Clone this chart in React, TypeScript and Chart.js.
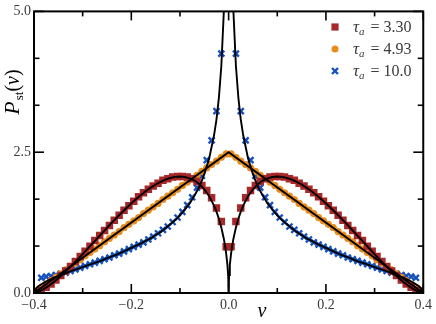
import React, { useEffect, useRef } from 'react';
import { Chart, registerables } from 'chart.js';

Chart.register(...registerables);

// bin centres (positive half, mirrored for v < 0)
const binV = [0.005, 0.015, 0.025, 0.035, 0.045, 0.055, 0.065, 0.075, 0.085, 0.095,
  0.105, 0.115, 0.125, 0.135, 0.145, 0.155, 0.165, 0.175, 0.185, 0.195,
  0.205, 0.215, 0.225, 0.235, 0.245, 0.255, 0.265, 0.275, 0.285, 0.295,
  0.305, 0.315, 0.325, 0.335, 0.345, 0.355, 0.365, 0.375, 0.385, 0.395];

// simulation markers
const tau330 = [0.82, 1.27, 1.51, 1.69, 1.82, 1.91, 1.98, 2.03, 2.06, 2.07,
  2.07, 2.06, 2.03, 2.00, 1.95, 1.90, 1.84, 1.78, 1.71, 1.63,
  1.55, 1.47, 1.38, 1.29, 1.20, 1.11, 1.02, 0.93, 0.83, 0.74,
  0.65, 0.56, 0.47, 0.39, 0.31, 0.23, 0.16, 0.10, 0.05, 0.01];
const tau493 = [2.47, 2.41, 2.34, 2.28, 2.22, 2.16, 2.09, 2.03, 1.97, 1.91,
  1.84, 1.78, 1.72, 1.66, 1.59, 1.53, 1.47, 1.41, 1.34, 1.28,
  1.22, 1.16, 1.09, 1.03, 0.97, 0.91, 0.84, 0.78, 0.72, 0.66,
  0.59, 0.53, 0.47, 0.41, 0.34, 0.28, 0.22, 0.16, 0.09, 0.03];
const tau100 = [7.2, 4.25, 3.23, 2.71, 2.36, 2.08, 1.87, 1.70, 1.56, 1.44,
  1.34, 1.26, 1.18, 1.12, 1.06, 1.00, 0.95, 0.90, 0.86, 0.82,
  0.78, 0.74, 0.70, 0.67, 0.63, 0.60, 0.57, 0.54, 0.51, 0.48,
  0.45, 0.42, 0.39, 0.36, 0.34, 0.32, 0.30, 0.29, 0.27, 0.04];

// theory curves (positive half, mirrored)
const curveV = [0, 0.001, 0.0025, 0.005, 0.0075, 0.01, 0.015, 0.02, 0.025, 0.03,
  0.04, 0.05, 0.06, 0.07, 0.08, 0.09, 0.10, 0.11, 0.12, 0.13,
  0.14, 0.15, 0.16, 0.17, 0.18, 0.19, 0.20, 0.21, 0.22, 0.23,
  0.24, 0.25, 0.26, 0.27, 0.28, 0.29, 0.30, 0.31, 0.32, 0.33,
  0.34, 0.35, 0.36, 0.37, 0.38, 0.39, 0.395, 0.4];
const curve330 = [0, 0.317, 0.499, 0.699, 0.847, 0.969, 1.164, 1.318, 1.445, 1.551,
  1.719, 1.842, 1.932, 1.996, 2.037, 2.060, 2.068, 2.061, 2.042, 2.013,
  1.974, 1.926, 1.871, 1.810, 1.742, 1.669, 1.592, 1.510, 1.425, 1.338,
  1.248, 1.156, 1.063, 0.969, 0.875, 0.782, 0.689, 0.598, 0.509, 0.423,
  0.341, 0.263, 0.191, 0.126, 0.069, 0.025, 0.009, 0];
const curve100 = [null, 15.9, 10.03, 7.07, 5.76, 4.97, 4.03, 3.47, 3.08, 2.80,
  2.39, 2.11, 1.89, 1.73, 1.59, 1.48, 1.38, 1.29, 1.22, 1.15,
  1.08, 1.03, 0.97, 0.93, 0.88, 0.84, 0.80, 0.76, 0.72, 0.68,
  0.65, 0.62, 0.58, 0.55, 0.52, 0.49, 0.46, 0.43, 0.40, 0.37,
  0.33, 0.30, 0.27, 0.23, 0.18, 0.13, 0.09, 0];
const curve493V = [-0.4, 0, 0.4];
const curve493 = [0, 2.5, 0];

const xTicks = [-0.4, -0.2, 0, 0.2, 0.4];
const xMinorTicks = [-0.3, -0.1, 0.1, 0.3];
const yTicks = [0, 2.5, 5];
const yMinorTicks = [0.8333, 1.6667, 3.3333, 4.1667];
const legendLabels = ['3.30', '4.93', '10.0'];

const RED = 'rgb(168,40,42)';
const ORANGE = 'rgb(232,140,26)';
const BLUE = 'rgb(22,82,190)';
const SERIF = '"Liberation Serif", "Times New Roman", serif';
const TEXT = '#3a3a3a';

function mirror(vs: number[], ps: (number | null)[]) {
  const pts: { x: number; y: number | null }[] = [];
  for (let i = vs.length - 1; i >= 0; i--) {
    if (vs[i] !== 0) pts.push({ x: -vs[i], y: ps[i] });
  }
  for (let i = 0; i < vs.length; i++) pts.push({ x: vs[i], y: ps[i] });
  return pts;
}

function fmt(v: number) {
  const n = Math.abs(v) < 1e-9 ? 0 : v;
  return n.toFixed(1).replace('-', '\u2212');
}

const decorPlugin = {
  id: 'decor',
  afterDatasetsDraw(chart: any) {
    const { ctx, chartArea } = chart;
    const { left, right, top, bottom } = chartArea;
    const xs = chart.scales.x;
    const ys = chart.scales.y;
    ctx.save();
    ctx.strokeStyle = '#000';
    ctx.lineCap = 'butt';
    const line = (x1: number, y1: number, x2: number, y2: number) => {
      ctx.beginPath();
      ctx.moveTo(x1, y1);
      ctx.lineTo(x2, y2);
      ctx.stroke();
    };
    ctx.lineWidth = 1.6;
    for (const v of xTicks) {
      const p = xs.getPixelForValue(v);
      line(p, bottom, p, bottom - 9);
      line(p, top, p, top + 9);
    }
    for (const v of xMinorTicks) {
      const p = xs.getPixelForValue(v);
      line(p, bottom, p, bottom - 5);
      line(p, top, p, top + 5);
    }
    for (const v of yTicks) {
      const p = ys.getPixelForValue(v);
      line(left, p, left + 10, p);
      line(right, p, right - 10, p);
    }
    for (const v of yMinorTicks) {
      const p = ys.getPixelForValue(v);
      line(left, p, left + 5.5, p);
      line(right, p, right - 5.5, p);
    }
    ctx.lineWidth = 2;
    ctx.strokeRect(left, top, right - left, bottom - top);

    // x title
    ctx.fillStyle = '#000';
    ctx.textBaseline = 'alphabetic';
    ctx.textAlign = 'center';
    ctx.font = `italic 20px ${SERIF}`;
    ctx.fillText('v', 262, 317);

    // y title P_st(v)
    ctx.save();
    ctx.translate(19, 92);
    ctx.rotate(-Math.PI / 2);
    ctx.textAlign = 'left';
    const parts: [string, string, number][] = [
      ['P', `italic 22px ${SERIF}`, 0],
      ['st', `13px ${SERIF}`, 4],
      ['(', `20px ${SERIF}`, 0],
      ['v', `italic 20px ${SERIF}`, 0],
      [')', `20px ${SERIF}`, 0],
    ];
    let total = 0;
    const widths: number[] = [];
    for (const [t, f] of parts) {
      ctx.font = f;
      const w = ctx.measureText(t).width + (t === 'P' ? 1 : 0);
      widths.push(w);
      total += w;
    }
    let cx = -total / 2;
    parts.forEach(([t, f, dy], i) => {
      ctx.font = f;
      ctx.fillText(t, cx, dy);
      cx += widths[i];
    });
    ctx.restore();

    // legend
    const rows = [0, 1, 2];
    rows.forEach((i) => {
      const my = 27 + i * 22;
      const mx = 335;
      if (i === 0) {
        ctx.fillStyle = RED;
        ctx.fillRect(mx - 3.6, my - 3.6, 7.2, 7.2);
      } else if (i === 1) {
        ctx.fillStyle = ORANGE;
        ctx.beginPath();
        ctx.arc(mx, my, 3.5, 0, Math.PI * 2);
        ctx.fill();
      } else {
        ctx.strokeStyle = BLUE;
        ctx.lineWidth = 2.4;
        const a = 3;
        line(mx - a, my - a, mx + a, my + a);
        line(mx - a, my + a, mx + a, my - a);
      }
      ctx.fillStyle = TEXT;
      ctx.textAlign = 'left';
      ctx.textBaseline = 'alphabetic';
      let tx = 353;
      const base = my + 5;
      ctx.font = `italic 17px ${SERIF}`;
      ctx.fillText('\u03c4', tx, base);
      tx += ctx.measureText('\u03c4').width;
      ctx.font = `italic 11px ${SERIF}`;
      ctx.fillText('a', tx, base + 3);
      tx += ctx.measureText('a').width + 2;
      ctx.font = `16px ${SERIF}`;
      ctx.fillText(' = ' + legendLabels[i], tx, base);
    });
    ctx.restore();
  },
};

export default function App() {
  const ref = useRef<HTMLCanvasElement | null>(null);
  useEffect(() => {
    if (!ref.current) return;
    const lineDs = (data: any[]) => ({
      data,
      showLine: true,
      borderColor: '#000',
      borderWidth: 1.9,
      pointRadius: 0,
      tension: 0,
      spanGaps: false,
    });
    const chart = new Chart(ref.current, {
      type: 'scatter',
      data: {
        datasets: [
          lineDs(mirror(curveV, curve330)),
          lineDs(curve493V.map((v, i) => ({ x: v, y: curve493[i] }))),
          lineDs(mirror(curveV, curve100)),
          {
            data: mirror(binV, tau330),
            pointStyle: 'rect',
            pointRadius: 5.3,
            backgroundColor: RED,
            borderColor: RED,
            borderWidth: 0,
          },
          {
            data: mirror(binV, tau493),
            pointStyle: 'circle',
            pointRadius: 3.6,
            backgroundColor: ORANGE,
            borderColor: ORANGE,
            borderWidth: 0,
          },
          {
            data: mirror(binV, tau100),
            pointStyle: 'crossRot',
            pointRadius: 4.2,
            backgroundColor: BLUE,
            borderColor: BLUE,
            borderWidth: 2.4,
          },
        ] as any,
      },
      options: {
        animation: false,
        responsive: false,
        events: [],
        layout: { padding: { top: 7, right: 11, left: 0, bottom: 0 } },
        plugins: { legend: { display: false }, tooltip: { enabled: false } },
        scales: {
          x: {
            type: 'linear',
            min: -0.4,
            max: 0.4,
            afterFit: (s: any) => { s.height = 31; },
            afterBuildTicks: (s: any) => { s.ticks = xTicks.map((v) => ({ value: v })); },
            grid: { display: false, drawTicks: false },
            border: { display: false },
            ticks: {
              font: { family: SERIF, size: 14 },
              color: TEXT,
              padding: 4,
              maxRotation: 0,
              autoSkip: false,
              callback: (v: any) => fmt(Number(v)),
            },
          },
          y: {
            type: 'linear',
            min: 0,
            max: 5,
            afterFit: (s: any) => { s.width = 34; },
            afterBuildTicks: (s: any) => { s.ticks = yTicks.map((v) => ({ value: v })); },
            grid: { display: false, drawTicks: false },
            border: { display: false },
            ticks: {
              font: { family: SERIF, size: 14 },
              color: TEXT,
              padding: 3,
              autoSkip: false,
              callback: (v: any) => fmt(Number(v)),
            },
          },
        },
      } as any,
      plugins: [decorPlugin],
    });
    return () => chart.destroy();
  }, []);
  return (
    <div style={{ position: 'absolute', left: 0, top: 0, width: 436, height: 324, background: '#fff' }}>
      <canvas ref={ref} width={436} height={324} style={{ display: 'block', width: 436, height: 324 }} />
    </div>
  );
}
